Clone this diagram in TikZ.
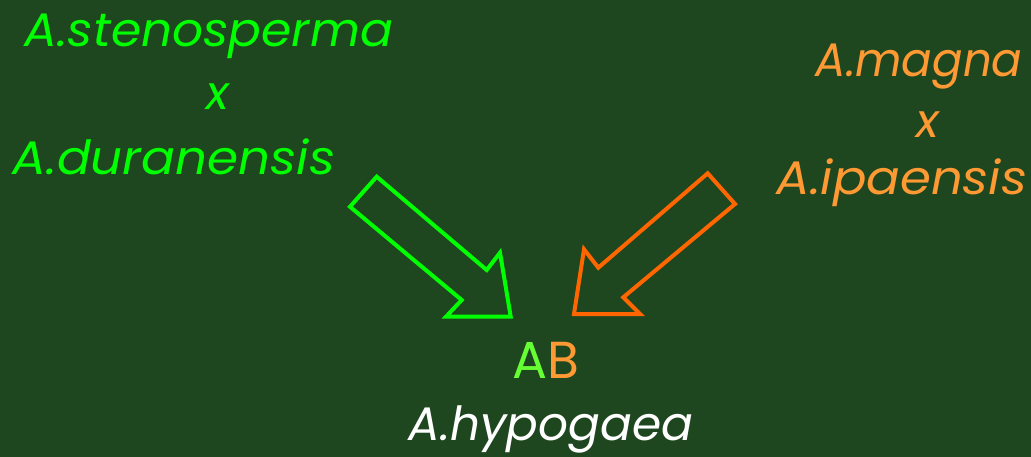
\documentclass[tikz,border=0pt]{standalone}
\usepackage{fontspec}
\setmainfont{Poppins}
\definecolor{bg}{HTML}{1E461F}
\definecolor{lgreen}{HTML}{00FF00}
\definecolor{agreen}{HTML}{66FF33}
\definecolor{lorange}{HTML}{FF9933}
\definecolor{dorange}{HTML}{FF6600}
\tikzset{
  lbl/.style={anchor=base, inner sep=0pt, font=\fontsize{47}{56}\selectfont\itshape},
  blockarrow/.style={line width=4pt, line join=miter, miter limit=10}
}
\begin{document}
\begin{tikzpicture}[x=1pt,y=-1pt]
\fill[bg] (0,0) rectangle (1031,457);
\useasboundingbox (0,0) rectangle (1031,457);
% left parents
\node[lbl, text=lgreen] (steno) at (209,47) {\scalebox{1.035}[1]{A.stenosperma}};
\node[lbl, text=lgreen] (x1) at (218,110) {x};
\node[lbl, text=lgreen] (dura) at (174,175) {\scalebox{1.065}[1]{A.duranensis}};
% right parents
\node[lbl, text=lorange] (magna) at (919,77) {\scalebox{0.96}[1]{A.magna}};
\node[lbl, text=lorange] (x2) at (928,138) {x};
\node[lbl, text=lorange] (ipa) at (902,195) {\scalebox{1.058}[1]{A.ipaensis}};
% result
\node[lbl, font=\fontsize{52}{60}\selectfont] (ab) at (546,378) {\textcolor{agreen}{A}\textcolor{lorange}{B}};
\node[lbl, text=white] (hypo) at (551,440) {A.hypogaea};
% arrows
\draw[blockarrow, lgreen] (376.7,176.7) -- (486.7,270) -- (500,252.7) -- (510.7,316.7) -- (446,316.7) -- (461.7,300) -- (350,206.7) -- cycle;
\draw[blockarrow, dorange] (707.7,173.3) -- (735,204) -- (623.3,297.3) -- (640,314) -- (574,314) -- (584,249.3) -- (598.3,267.7) -- cycle;
\end{tikzpicture}
\end{document}
